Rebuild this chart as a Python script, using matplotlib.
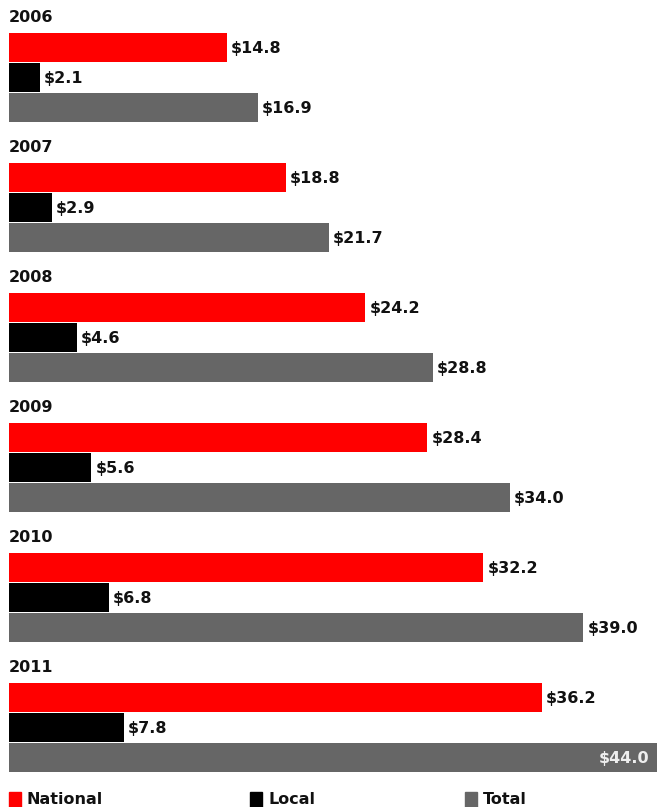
import matplotlib
matplotlib.use("Agg")
import matplotlib.pyplot as plt
from matplotlib.patches import Rectangle

years = ["2006", "2007", "2008", "2009", "2010", "2011"]
national = [14.8, 18.8, 24.2, 28.4, 32.2, 36.2]
local = [2.1, 2.9, 4.6, 5.6, 6.8, 7.8]
total = [16.9, 21.7, 28.8, 34.0, 39.0, 44.0]

series = [("National", national, "#ff0000"),
          ("Local", local, "#000000"),
          ("Total", total, "#666666")]

W, H = 658, 807
fig = plt.figure(figsize=(W / 100, H / 100), dpi=100)
ax = fig.add_axes([0, 0, 1, 1])
px = 14.73  # pixels per dollar
x0 = 9
ax.set_xlim(-x0 / px, (W - x0) / px)
ax.set_ylim(H, 0)
ax.axis("off")

group = 130
bar_h = 29
first = 47.5
font = dict(family="DejaVu Sans", fontweight="bold", fontsize=11.5)
ink = "#111111"

for i, yr in enumerate(years):
    top = first + group * i
    ax.text(0, top - 30, yr, va="center", ha="left", color=ink, **font)
    for j, (name, vals, col) in enumerate(series):
        yc = top + 30 * j
        v = vals[i]
        ax.barh(yc, v, height=bar_h, left=0, color=col)
        if v >= 43:
            ax.text(v - 8 / px, yc + 1, f"${v:.1f}", va="center", ha="right",
                    color="#eeeeee", **font)
        else:
            ax.text(v + 4 / px, yc + 1, f"${v:.1f}", va="center", ha="left",
                    color=ink, **font)

# legend along the bottom edge
leg_x = [9, 250, 465]
for (name, vals, col), lx in zip(series, leg_x):
    fig.patches.append(Rectangle((lx / W, 1 - 807 / H), 12 / W, 15 / H,
                                 transform=fig.transFigure, color=col))
    fig.text((lx + 18) / W, 1 - 800 / H, name, va="center", ha="left",
             color=ink, **font)

fig.savefig("out.png", dpi=100, facecolor="white")
